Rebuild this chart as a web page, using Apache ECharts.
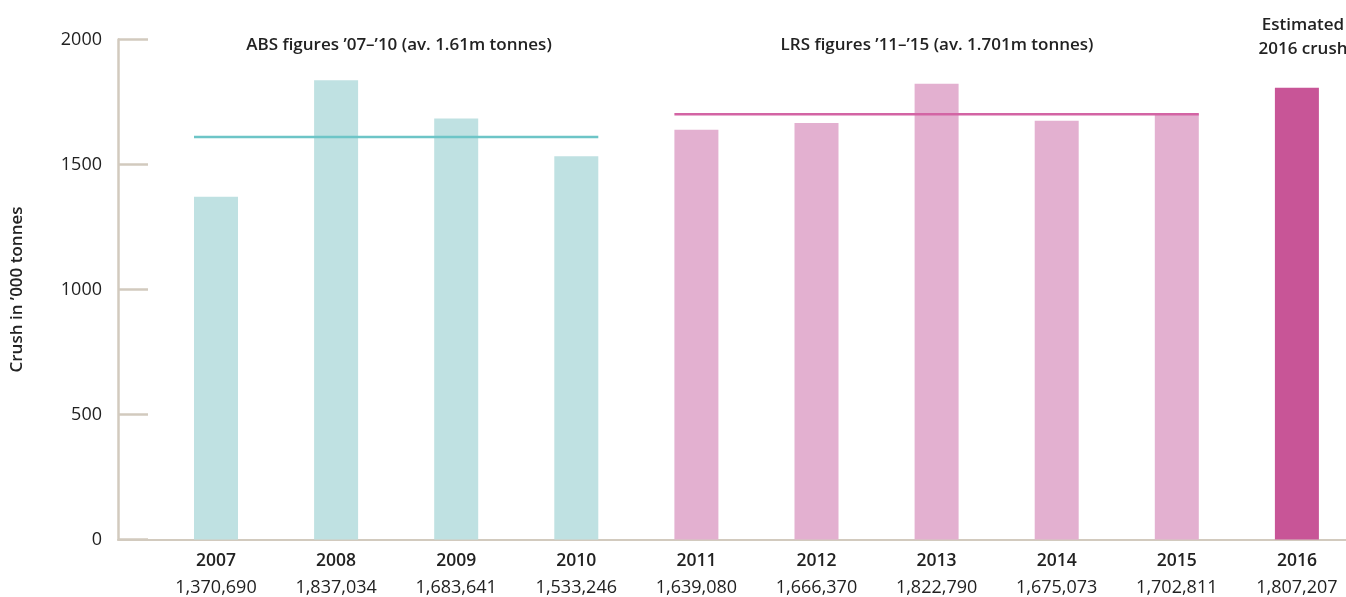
<!DOCTYPE html>
<html>
<head>
<meta charset="utf-8">
<style>
  html, body { margin: 0; padding: 0; background: #ffffff; }
  #chart { width: 1346px; height: 597px; }
</style>
<script src="https://cdn.jsdelivr.net/npm/echarts@6/dist/echarts.min.js"></script>
</head>
<body>
<div id="chart"></div>
<script>
// Annual winegrape crush, tonnes
const years = [2007, 2008, 2009, 2010, 2011, 2012, 2013, 2014, 2015, 2016];
const crushTonnes = [1370690, 1837034, 1683641, 1533246, 1639080, 1666370, 1822790, 1675073, 1702811, 1807207];
// Period averages, '000 tonnes
const absPeriod = [2007, 2010];
const absAverage = 1610;
const lrsPeriod = [2011, 2015];
const lrsAverage = 1701;
const yTicks = [0, 500, 1000, 1500, 2000];

const TEAL_BAR = '#bfe1e2', TEAL_LINE = '#6dc5c7';
const PINK_BAR = '#e3b0d0', PINK_LINE = '#d364a4';
const ESTIMATE_BAR = '#c85597';
const AXIS = '#d2cabe';
const INK = '#222222';
const FONT = '"Open Sans", "Noto Sans", sans-serif';

// horizontal layout of the year slots
const gridLeft = 118, chartWidth = 1346;
const pitch = 120.1;          // px per year
const firstCenter = 216;      // px
const barWidth = 44;
const xMin = years[0] - (firstCenter - gridLeft) / pitch;
const xMax = xMin + (chartWidth - gridLeft) / pitch;
const halfBar = (barWidth / 2) / pitch;

const fmt = n => n.toLocaleString('en-US');

function barColor(year) {
  if (year <= absPeriod[1]) return TEAL_BAR;
  if (year <= lrsPeriod[1]) return PINK_BAR;
  return ESTIMATE_BAR;
}

const headStyle = { fontFamily: FONT, fontSize: 17, fontWeight: 600, color: INK };

const chart = echarts.init(document.getElementById('chart'));
chart.setOption({
  animation: false,
  textStyle: { fontFamily: FONT },
  title: [
    { text: 'ABS figures ’07–’10 (av. 1.61m tonnes)', left: 394, top: 32, textAlign: 'center',
      textStyle: headStyle },
    { text: 'LRS figures ’11–’15 (av. 1.701m tonnes)', left: 932, top: 32, textAlign: 'center',
      textStyle: headStyle },
    { text: 'Estimated\n2016 crush', left: 1298, top: 8, textAlign: 'center',
      textStyle: Object.assign({}, headStyle, { lineHeight: 24 }) }
  ],
  grid: { left: gridLeft, right: 0, top: 39.5, bottom: 57.5, containLabel: false },
  xAxis: {
    type: 'value',
    min: xMin,
    max: xMax,
    splitLine: { show: false },
    axisLine: { show: true, lineStyle: { color: AXIS, width: 2 } },
    axisTick: { show: false },
    axisLabel: {
      show: true,
      customValues: years,
      margin: 8,
      formatter: v => {
        const i = years.indexOf(Math.round(v));
        if (i < 0) return '';
        return '{y|' + years[i] + '}\n{v|' + fmt(crushTonnes[i]) + '}';
      },
      rich: {
        y: { fontFamily: FONT, fontSize: 17.5, fontWeight: 600, color: INK, lineHeight: 27 },
        v: { fontFamily: FONT, fontSize: 18, color: INK, lineHeight: 27 }
      }
    }
  },
  yAxis: {
    type: 'value',
    min: 0,
    max: 2000,
    interval: 500,
    name: 'Crush in ’000 tonnes',
    nameLocation: 'middle',
    nameGap: 92,
    nameRotate: 90,
    nameTextStyle: headStyle,
    axisLine: { show: true, lineStyle: { color: AXIS, width: 2.5 } },
    axisTick: { show: true, inside: true, length: 30, lineStyle: { color: AXIS, width: 2.5 } },
    axisLabel: { margin: 16, fontFamily: FONT, fontSize: 18, color: INK,
      customValues: yTicks, formatter: v => String(v) },
    splitLine: { show: false }
  },
  series: [
    {
      type: 'bar',
      barWidth: barWidth,
      data: years.map((y, i) => ({
        value: [y, crushTonnes[i] / 1000],
        itemStyle: { color: barColor(y) }
      })),
      z: 2
    },
    {
      type: 'line',
      symbol: 'none',
      lineStyle: { color: TEAL_LINE, width: 2.5 },
      data: [[absPeriod[0] - halfBar, absAverage], [absPeriod[1] + halfBar, absAverage]],
      z: 3
    },
    {
      type: 'line',
      symbol: 'none',
      lineStyle: { color: PINK_LINE, width: 2.5 },
      data: [[lrsPeriod[0] - halfBar, lrsAverage], [lrsPeriod[1] + halfBar, lrsAverage]],
      z: 3
    }
  ]
});
</script>
</body>
</html>
